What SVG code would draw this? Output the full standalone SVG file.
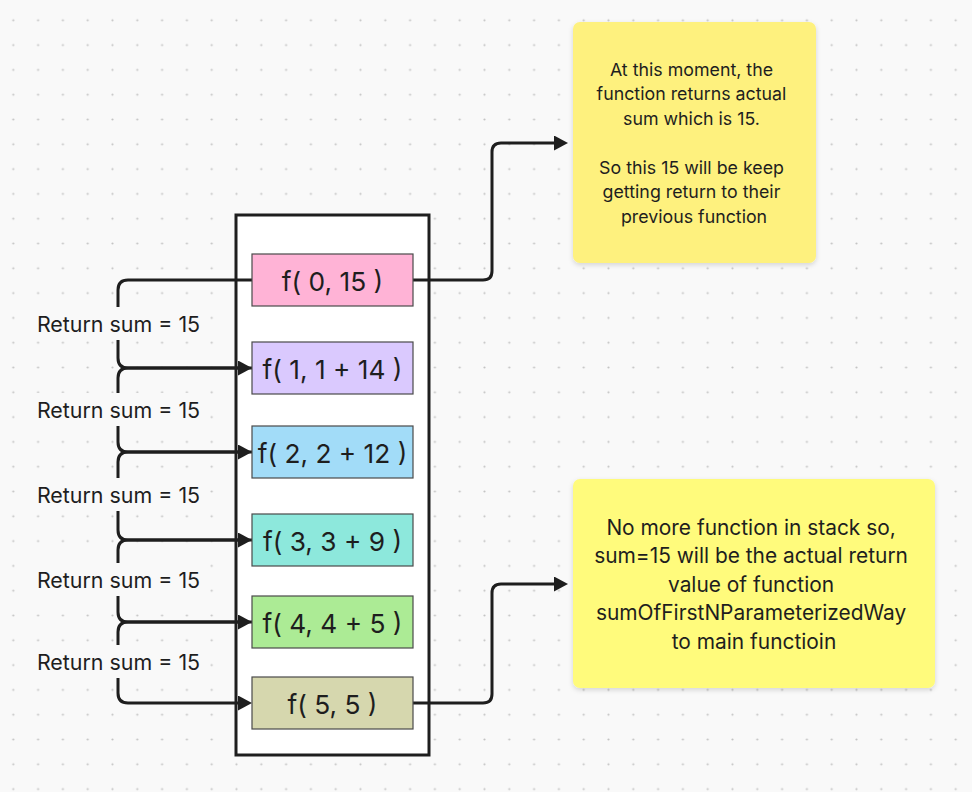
<svg xmlns="http://www.w3.org/2000/svg" width="972" height="792" viewBox="0 0 972 792">
<style>
  .node rect { stroke: #4a4a4a; stroke-width: 1.2; }
  .node text { font-family: Inter, "Noto Sans", sans-serif; font-size: 26.3px; fill: #1e1e1e; text-anchor: middle; dominant-baseline: central; }
  .conn { fill: none; stroke: #1e1e1e; stroke-width: 3; stroke-linejoin: round; }
  .lbl-bg { fill: #f9f9f9; }
  .lbl { font-family: Inter, "Noto Sans", sans-serif; font-size: 21.4px; fill: #1e1e1e; text-anchor: middle; dominant-baseline: central; }
  .note-text { font-family: Inter, "Noto Sans", sans-serif; fill: #1e1e1e; text-anchor: middle; }
</style>
<defs>
  <pattern id="dots" x="0.9" y="7.9" width="24.8" height="24.8" patternUnits="userSpaceOnUse">
    <circle cx="12.4" cy="12.4" r="1.1" fill="#c4c4c4"/>
  </pattern>
  <marker id="arrow" markerUnits="userSpaceOnUse" markerWidth="16" markerHeight="16" refX="7" refY="7.5" orient="auto">
    <path d="M0,0 L14,7.5 L0,15 Z" fill="#1e1e1e"/>
  </marker>
  <filter id="shadow" x="-10%" y="-10%" width="120%" height="125%">
    <feDropShadow dx="0" dy="2" stdDeviation="2.5" flood-color="#000" flood-opacity="0.15"/>
  </filter>
</defs>
<rect width="972" height="792" fill="#f9f9f9"/>
<rect width="972" height="792" fill="url(#dots)"/>

<g id="stack">
  <rect x="236" y="215" width="193" height="540" fill="#ffffff" stroke="#1e1e1e" stroke-width="3"/>
</g>

<g id="connectors">
  <path class="conn" d="M252,280 H128 Q118,280 118,290 V358 Q118,368 128,368 H245" marker-end="url(#arrow)"/>
  <path class="conn" d="M252,368 H128 Q118,368 118,378 V442 Q118,452 128,452 H245" marker-end="url(#arrow)"/>
  <path class="conn" d="M252,452 H128 Q118,452 118,462 V530 Q118,540 128,540 H245" marker-end="url(#arrow)"/>
  <path class="conn" d="M252,540 H128 Q118,540 118,550 V612 Q118,622 128,622 H245" marker-end="url(#arrow)"/>
  <path class="conn" d="M252,622 H128 Q118,622 118,632 V693 Q118,703 128,703 H245" marker-end="url(#arrow)"/>
  <path class="conn" d="M413,280 H483 Q492,280 492,271 V152 Q492,143 501,143 H561" marker-end="url(#arrow)"/>
  <path class="conn" d="M413,703 H483 Q492,703 492,694 V593 Q492,584 501,584 H561" marker-end="url(#arrow)"/>
  <g id="labels">
    <rect class="lbl-bg" x="36" y="307" width="166" height="33"/>
    <text class="lbl" x="118.5" y="323.5">Return sum = 15</text>
    <rect class="lbl-bg" x="36" y="393" width="166" height="33"/>
    <text class="lbl" x="118.5" y="409.5">Return sum = 15</text>
    <rect class="lbl-bg" x="36" y="478" width="166" height="33"/>
    <text class="lbl" x="118.5" y="494.5">Return sum = 15</text>
    <rect class="lbl-bg" x="36" y="563" width="166" height="33"/>
    <text class="lbl" x="118.5" y="579.5">Return sum = 15</text>
    <rect class="lbl-bg" x="36" y="645" width="166" height="33"/>
    <text class="lbl" x="118.5" y="661.5">Return sum = 15</text>
  </g>
</g>

<g id="node-f0" class="node">
  <rect x="252" y="254" width="161" height="52" fill="#ffb3d6"/>
  <text x="332.5" y="281">f( 0, 15 )</text>
</g>
<g id="node-f1" class="node">
  <rect x="252" y="342" width="161" height="52" fill="#dac9fe"/>
  <text x="332.5" y="369">f( 1, 1 + 14 )</text>
</g>
<g id="node-f2" class="node">
  <rect x="252" y="426" width="161" height="52" fill="#a2dcf8"/>
  <text x="332.5" y="453">f( 2, 2 + 12 )</text>
</g>
<g id="node-f3" class="node">
  <rect x="252" y="514" width="161" height="52" fill="#8de8dc"/>
  <text x="332.5" y="541">f( 3, 3 + 9 )</text>
</g>
<g id="node-f4" class="node">
  <rect x="252" y="596" width="161" height="52" fill="#aceb95"/>
  <text x="332.5" y="623">f( 4, 4 + 5 )</text>
</g>
<g id="node-f5" class="node">
  <rect x="252" y="677" width="161" height="52" fill="#d6d7ae"/>
  <text x="332.5" y="704">f( 5, 5 )</text>
</g>

<g id="note-1">
  <rect x="573" y="22" width="243" height="241" rx="7" fill="#fef17e" filter="url(#shadow)"/>
  <text class="note-text" font-size="17.8">
    <tspan x="694" y="75.5">At this moment, the</tspan>
    <tspan x="694" y="100">function returns actual</tspan>
    <tspan x="694" y="124.5">sum which is 15.</tspan>
    <tspan x="694" y="173.5">So this 15 will be keep</tspan>
    <tspan x="694" y="198">getting return to their</tspan>
    <tspan x="694" y="222.5">previous function</tspan>
  </text>
</g>

<g id="note-2">
  <rect x="573" y="479" width="362" height="209" rx="7" fill="#fffb7c" filter="url(#shadow)"/>
  <text class="note-text" font-size="20.9">
    <tspan x="754" y="534.5">No more function in stack so,</tspan>
    <tspan x="754" y="563">sum=15 will be the actual return</tspan>
    <tspan x="754" y="591.5">value of function</tspan>
    <tspan x="754" y="620">sumOfFirstNParameterizedWay</tspan>
    <tspan x="754" y="648.5">to main functioin</tspan>
  </text>
</g>
</svg>
